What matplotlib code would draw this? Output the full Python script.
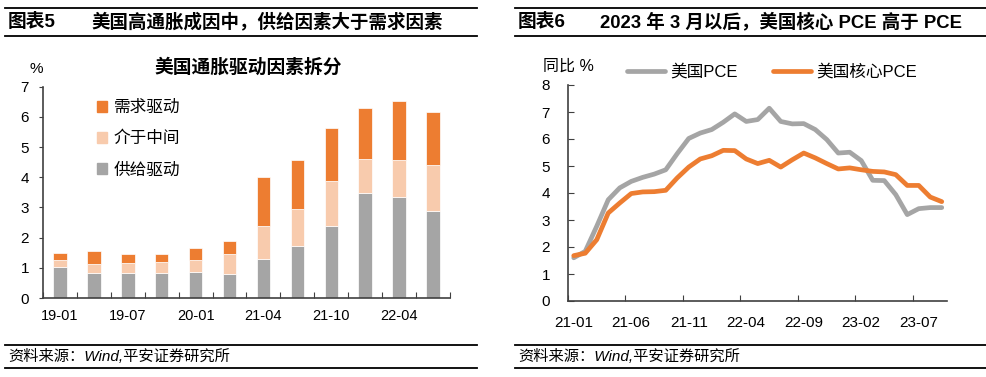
import numpy as np
import matplotlib
matplotlib.use('Agg')
import matplotlib.pyplot as plt
from matplotlib.patches import Patch
from matplotlib.lines import Line2D

plt.rcParams['font.family'] = ['Liberation Sans', 'Noto Sans CJK SC']

# --- left chart: US inflation drivers (stacked bars) ---
bar_cats = ['19-01', '19-04', '19-07', '19-10', '20-01', '20-10',
            '21-04', '21-07', '21-10', '22-01', '22-04', '22-07']
supply = [1.03, 0.82, 0.82, 0.82, 0.86, 0.79, 1.28, 1.73, 2.38, 3.47, 3.36, 2.89]
middle = [0.22, 0.31, 0.33, 0.36, 0.39, 0.68, 1.12, 1.21, 1.49, 1.13, 1.20, 1.53]
demand = [0.23, 0.42, 0.32, 0.28, 0.39, 0.42, 1.61, 1.63, 1.77, 1.71, 1.95, 1.74]

# --- right chart: PCE vs core PCE, monthly from 21-01 ---
pce = [1.60, 1.84, 2.77, 3.75, 4.19, 4.43, 4.58, 4.70, 4.86, 5.46, 6.02,
       6.22, 6.35, 6.62, 6.93, 6.65, 6.72, 7.14, 6.65, 6.56, 6.57, 6.35,
       5.98, 5.48, 5.51, 5.20, 4.47, 4.46, 3.94, 3.20, 3.42, 3.46, 3.46]
core_pce = [1.68, 1.77, 2.27, 3.26, 3.63, 3.98, 4.04, 4.05, 4.10, 4.56, 4.96,
            5.26, 5.38, 5.58, 5.57, 5.26, 5.09, 5.21, 4.96, 5.23, 5.48, 5.30,
            5.09, 4.89, 4.93, 4.86, 4.80, 4.78, 4.68, 4.28, 4.28, 3.85, 3.68]
month_labels = ['21-01', '21-06', '21-11', '22-04', '22-09', '23-02', '23-07']

ORANGE = '#ED7D31'
PINK = '#F8CBAD'
GRAY = '#A5A5A5'
AXC = '#404040'

W, H = 987, 377
fig = plt.figure(figsize=(W / 100, H / 100), dpi=100)


def fx(x):
    return x / W


def fy(y):
    return 1 - y / H


def hline(x0, x1, y, lw=1.3):
    fig.add_artist(Line2D([fx(x0), fx(x1)], [fy(y), fy(y)], color='black',
                          lw=lw, transform=fig.transFigure))


# headers / footers
for x0, x1 in [(5, 477), (515, 987)]:
    hline(x0, x1, 8)
    hline(x0, x1, 36)
    hline(x0, x1, 344.5)
    hline(x0, x1, 367.5)

fig.text(fx(8), fy(22), '图表5', fontsize=13.5, fontweight='bold', va='center')
fig.text(fx(91), fy(22), '美国高通胀成因中，供给因素大于需求因素', fontsize=13.3,
         fontweight='bold', va='center')
fig.text(fx(518), fy(22), '图表6', fontsize=13.5, fontweight='bold', va='center')
fig.text(fx(600), fy(22), '2023 年 3 月以后，美国核心 PCE 高于 PCE', fontsize=13.3,
         fontweight='bold', va='center')

for x0 in [8, 518]:
    fig.text(fx(x0), fy(356), '资料来源：Wind,平安证券研究所', fontsize=11,
             style='italic', va='center')

# ---------- left axes ----------
ax1 = fig.add_axes([fx(43), fy(298), fx(450) - fx(43), fy(86.7) - fy(298)])
x = np.arange(len(bar_cats))
bw = 0.4
ax1.bar(x, supply, bw, color=GRAY, edgecolor='white', linewidth=0.5)
ax1.bar(x, middle, bw, bottom=supply, color=PINK, edgecolor='white', linewidth=0.5)
bottom2 = np.array(supply) + np.array(middle)
ax1.bar(x, demand, bw, bottom=bottom2, color=ORANGE, edgecolor='white', linewidth=0.5)

ax1.set_xlim(-0.5, len(bar_cats) - 0.5)
ax1.set_ylim(0, 7)
ax1.set_yticks(range(0, 8))
ax1.set_xticks(np.arange(-0.5, len(bar_cats), 1))
ax1.set_xticklabels([])
ax1.set_xticks(x[::2], minor=True)
ax1.set_xticklabels(bar_cats[::2], minor=True)
ax1.tick_params(axis='x', which='major', direction='in', length=4, color=AXC)
ax1.tick_params(axis='x', which='minor', length=0, pad=8, labelsize=10.5)
ax1.tick_params(axis='y', direction='out', length=3, color=AXC, pad=7, labelsize=11)
for s in ['top', 'right']:
    ax1.spines[s].set_visible(False)
for s in ['left', 'bottom']:
    ax1.spines[s].set_color(AXC)
    ax1.spines[s].set_linewidth(1.2)

fig.text(fx(36), fy(69), '%', fontsize=11, ha='center', va='center')
fig.text(fx(248), fy(67), '美国通胀驱动因素拆分', fontsize=13.5, fontweight='bold',
         ha='center', va='center')

handles = [Patch(color=ORANGE), Patch(color=PINK), Patch(color=GRAY)]
ax1.legend(handles, ['需求驱动', '介于中间', '供给驱动'], loc='upper left',
           bbox_to_anchor=(fx(97), fy(100)), bbox_transform=fig.transFigure,
           frameon=False, fontsize=12, handlelength=0.6, handleheight=0.6,
           handletextpad=0.4, labelspacing=0.95, borderpad=0, borderaxespad=0)

# ---------- right axes ----------
ax2 = fig.add_axes([fx(568), fy(301), fx(947.5) - fx(568), fy(85) - fy(301)])
t = np.arange(len(pce))
ax2.plot(t, pce, color=GRAY, lw=3.4, solid_capstyle='round', label='美国PCE')
ax2.plot(t, core_pce, color=ORANGE, lw=3.4, solid_capstyle='round', label='美国核心PCE')
ax2.set_xlim(-0.5, len(pce) - 0.5)
ax2.set_ylim(0, 8)
ax2.set_yticks(range(0, 9))
ax2.set_xticks(np.arange(-0.5, len(pce), 5))
ax2.set_xticklabels([])
ax2.set_xticks(np.arange(0, len(pce), 5), minor=True)
ax2.set_xticklabels(month_labels, minor=True)
ax2.tick_params(axis='x', which='major', direction='in', length=4, color=AXC)
ax2.tick_params(axis='x', which='minor', length=0, pad=11, labelsize=11)
ax2.tick_params(axis='y', direction='in', length=4, color=AXC, pad=13, labelsize=11)
for s in ['top', 'right']:
    ax2.spines[s].set_visible(False)
for s in ['left', 'bottom']:
    ax2.spines[s].set_color(AXC)
    ax2.spines[s].set_linewidth(1.2)

fig.text(fx(543), fy(66), '同比 %', fontsize=11.5, va='center')
ax2.legend(loc='upper left', ncol=2, bbox_to_anchor=(fx(627), fy(64)),
           bbox_transform=fig.transFigure, frameon=False, fontsize=12,
           handlelength=2.3, handletextpad=0.3, columnspacing=2.1,
           borderpad=0, borderaxespad=0)

fig.savefig('out.png', dpi=100)
